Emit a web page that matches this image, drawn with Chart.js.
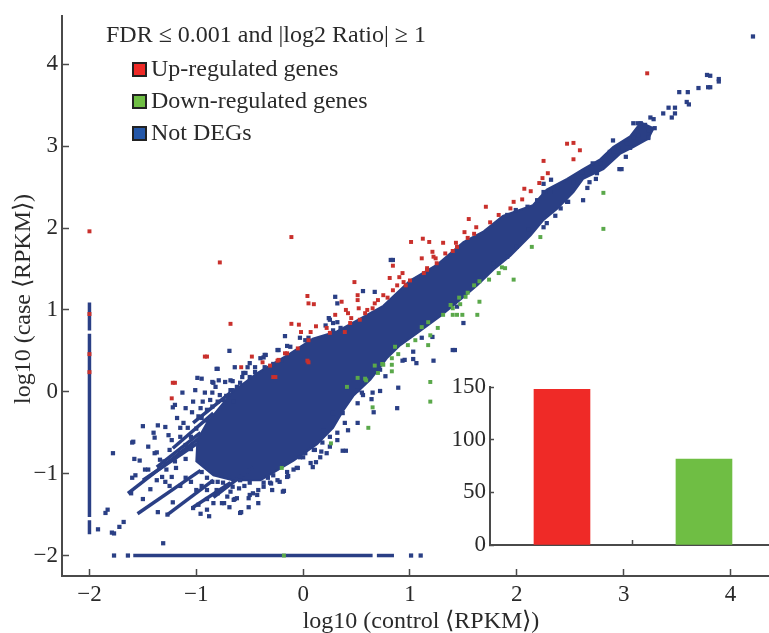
<!DOCTYPE html>
<html>
<head>
<meta charset="utf-8">
<script src="https://cdn.jsdelivr.net/npm/chart.js@4"></script>
<style>
  html, body { margin: 0; padding: 0; background: #fff; }
  #wrap { position: relative; width: 769px; height: 633px; overflow: hidden; }
  canvas { position: absolute; display: block; }
  #main { left: 0; top: 0; }
  #inset { left: 440px; top: 370px; }
</style>
</head>
<body>
<div id="wrap">
  <canvas id="main" width="769" height="633"></canvas>
  <canvas id="inset" width="329" height="200"></canvas>
</div>
<script>
const xTicks = [-2, -1, 0, 1, 2, 3, 4];
const yTicks = [-2, -1, 0, 1, 2, 3, 4];
const xTitle = 'log10 (control \u27E8RPKM\u27E9)';
const yTitle = 'log10 (case \u27E8RPKM\u27E9)';
const legendTitle = 'FDR \u2264 0.001 and |log2 Ratio| \u2265 1';
const legendLabels = ['Up-regulated genes', 'Down-regulated genes', 'Not DEGs'];

const barCategories = [1, 2];
const barValues = [147.8, 81.5];
const barTicks = [0, 50, 100, 150];

// outline of the solid part of the cloud
const cloudOutline = [
  [-0.99,-0.59],[-0.90,-0.38],[-0.66,0.00],[-0.43,0.23],[-0.12,0.47],[0.09,0.65],[0.32,0.74],[0.50,0.87],
  [0.75,1.05],[1.00,1.36],[1.25,1.55],[1.50,1.83],[1.69,1.96],[1.87,2.15],[2.15,2.28],[2.28,2.47],[2.47,2.60],
  [2.62,2.72],[2.78,2.84],[2.90,2.99],[3.06,3.12],[3.16,3.29],[3.28,3.22],[3.23,3.09],[3.09,2.99],[2.97,2.91],
  [2.81,2.72],[2.62,2.60],[2.53,2.44],[2.38,2.24],[2.25,2.10],[2.13,1.91],[1.94,1.66],[1.78,1.49],[1.63,1.30],
  [1.44,1.09],[1.28,0.92],[1.07,0.72],[0.91,0.57],[0.79,0.42],[0.63,0.15],[0.47,-0.05],[0.37,-0.24],[0.28,-0.44],
  [0.13,-0.64],[-0.09,-0.84],[-0.40,-1.08],[-0.66,-1.08],[-0.84,-1.02],[-1.00,-0.85],[-0.99,-0.59]
];

// runs of low count genes: the diagonals and the two zero strips on the axes
const blueRuns = [
  [[-1.55,-1.49],[-0.96,-0.96]],
  [[-1.64,-1.24],[-0.96,-0.55]],
  [[-1.27,-1.50],[-0.84,-1.08]],
  [[-1.50,-1.08],[-0.99,-0.63]],
  [[-1.37,-0.92],[-0.96,-0.50]],
  [[-1.22,-0.69],[-0.84,-0.26]],
  [[-1.03,-0.38],[-0.68,-0.01]],
  [[-1.03,-1.41],[-0.68,-1.11]],
  [[-0.84,-1.29],[-0.47,-0.92]],
  [[-2,1.09],[-2,0.75]],
  [[-2,0.71],[-2,-1.53]],
  [[-2,-1.57],[-2,-1.74]],
  [[-1.59,-2],[0.65,-2]],
  [[0.69,-2],[0.85,-2]]
];

const bluePoints = [
  [-1.77,-2],[-1.64,-2],[1.01,-2],[1.10,-2],
  [-1.78,-0.75],[-1.60,-0.62],[-1.58,-0.82],[-1.45,-0.67],[-1.53,-0.84],[-1.48,-0.95],[-1.57,-1.02],[-1.60,-1.05],
  [-1.61,-1.24],[-1.50,-1.31],[-1.39,-0.75],[-1.34,-0.83],[-1.32,-1.04],[-1.43,-1.19],[-1.37,-1.08],[-1.29,-1.10],
  [-1.23,-1.04],[-1.19,-0.93],[-1.22,-1.35],[-1.36,-1.47],[-1.27,-1.50],[-1.83,-1.44],[-1.85,-1.48],[-1.68,-1.59],
  [-1.72,-1.65],[-1.79,-1.72],[-1.77,-1.73],[-1.92,-1.68],[-1.31,-1.85],
  [-1.03,-1.42],[-0.98,-1.38],[-0.90,-1.31],[-0.84,-1.36],[-0.90,-1.44],[-0.96,-1.49],[-0.88,-1.52],[-0.74,-1.36],
  [-0.69,-1.41],[-0.59,-1.48],[-0.58,-1.47],[-0.51,-1.41],[-0.42,-1.36],[-0.65,-1.32],[-0.51,-1.30],[-0.80,-1.24],
  [-0.29,-1.20],[-0.19,-1.22],[-0.18,-1.21],[-0.42,-1.20],
  [-0.05,-0.93],[-0.14,-1.03],[-0.22,-1.10],[0.07,-0.87],[0.09,-0.92],[0.12,-0.86],[0.10,-0.71],[0.17,-0.73],
  [0.37,-0.72],[0.40,-0.72],[0.42,-0.47],[0.51,-0.38],[-0.64,-1.31],[-0.50,-1.26],[-0.37,-1.11],[-0.28,-1.02],
  [-0.43,-1.26],[-0.68,-1.22],[-0.09,-0.95],[0.00,-0.80],[0.25,-0.67],[0.32,-0.59],[-0.55,-1.15],[-0.33,-1.05],
  [-0.60,-1.18],[-0.72,-1.15],[-0.30,-1.12],[-0.15,-0.98],[0.18,-0.62],[0.22,-0.75],
  [-0.81,-1.20],[-0.75,-1.11],[-0.66,-1.16],[-0.59,-1.08],[-0.50,-1.11],[-0.37,-1.16],[-0.31,-1.11],[-0.47,-1.24],
  [-0.62,-1.30],[-0.71,-1.28],[-0.76,-1.36],[-0.90,-1.05],[-0.80,-1.10],[-0.95,-0.98],
  [-1.45,-0.95],[-1.30,-0.85],[-1.28,-0.95],[-1.20,-0.85],[-1.15,-0.75],[-1.10,-0.82],[-1.05,-0.70],[-1.25,-1.15],
  [-1.15,-1.15],[-1.10,-1.05],[-1.05,-1.10],[-1.00,-1.20],[-0.95,-1.15],[-0.90,-1.20],[-0.85,-1.10],[-1.15,-0.55],
  [-1.05,-0.55],[-1.00,-0.45],[-1.10,-0.65],[-0.95,-0.32],[-0.90,-0.35],[-0.85,-0.18],[-0.80,-0.12],[-0.72,-0.05],[-0.65,-0.12],
  [0.51,-0.14],[0.37,-0.26],[0.39,-0.38],[0.28,-0.26],[0.19,-0.47],[0.32,-0.50],[0.25,-0.55],[0.11,-0.71],[0.16,-0.80],
  [-0.03,-0.80],[0.02,-0.75],[-0.06,-0.93],[-0.15,-1.04],[-0.24,-1.08],[0.55,-0.01],[0.51,0.02],
  [-0.84,0.11],[-0.68,0.14],[-0.66,0.02],[-0.56,0.23],[-0.52,0.30],[-0.37,0.42],[-0.12,0.55],[0.02,0.63],[0.05,0.66],
  [0.25,0.88],[0.32,0.85],[0.28,0.75],
  [-1.59,-0.61],[-1.50,-0.42],[-1.40,-0.50],[-1.39,-0.56],[-1.36,-0.41],[-1.29,-0.43],[-1.22,-0.19],[-1.13,-0.01],
  [-1.01,0.02],[-0.99,0.17],[-0.95,0.16],[-0.92,-0.01],[-0.85,-0.01],[-0.85,0.12],[-0.79,0.14],[-0.81,0.28],
  [-0.80,0.28],[-0.69,0.50],[-0.73,0.12],[-0.66,0.13],[-0.64,0.30],[-0.54,0.23],[-0.50,0.35],[-0.40,0.41],
  [-0.35,0.45],[-0.23,0.51],[-0.15,0.56],[-1.20,-0.16],[-1.03,-0.12],[-0.94,-0.12],[-0.87,-0.10],[-1.04,-0.25],
  [-1.18,-0.32],[-1.23,-0.59],[-1.26,-0.53],[-1.15,-0.44],[-1.08,-0.44],[-1.25,-0.71],[-1.37,-0.74],[-1.12,-0.38],
  [-0.96,-0.20],[-0.82,0.06],[-0.78,-0.04],[-0.68,0.02],[-0.59,0.11],[-1.10,-0.20],[-0.98,-0.30],[-0.90,-0.22],
  [-0.75,-0.10],[-0.62,0.06],[-0.57,0.18],[-0.45,0.24],[-0.36,0.30],[-0.28,0.34],[-0.20,0.38],
  [4.21,4.34],[3.78,3.87],[3.81,3.86],[3.89,3.82],[3.89,3.79],[3.79,3.72],[3.81,3.72],[3.70,3.71],[3.60,3.66],[3.52,3.66],
  [3.59,3.54],[3.61,3.51],[3.42,3.47],[3.48,3.47],[3.37,3.40],[3.48,3.40],[3.45,3.35],[3.25,3.35],[3.28,3.33],
  [3.13,3.28],[3.29,3.22],[3.23,3.10],[2.90,3.07],[3.02,2.87],[2.96,2.72],[2.98,2.72],[2.75,2.67],[2.74,2.60],
  [2.68,2.56],[2.66,2.49],[2.62,2.34],[2.47,2.32],[2.32,2.59],[2.25,2.54],[2.36,2.15],
  [2.61,2.68],[2.71,2.79],[2.78,2.79],[2.87,2.93],[2.92,2.89],[2.95,2.98],[3.03,3.03],[3.06,2.98],[3.09,3.11],
  [3.14,3.13],[3.20,3.26],[3.23,3.19],[3.09,3.28],[3.16,3.28],[3.23,3.11],
  [2.25,2.44],[2.31,2.44],[2.38,2.50],[2.53,2.56],[2.19,2.34],[2.10,2.26],[1.99,2.22],[1.91,2.16],
  [2.48,2.32],[2.41,2.24],[2.28,2.06],[2.25,2.01],[2.11,1.98],[2.00,1.77],[1.91,1.65],[1.78,1.57],[1.66,1.40],
  [1.40,0.51],[1.42,0.51],[1.22,0.38],[1.06,0.35],[1.03,0.40],[0.93,0.38],[0.95,0.39],[0.89,0.05],[0.88,-0.20],[0.66,-0.25],
  [0.72,0.01],[0.65,-0.01],[0.64,-0.09],[0.56,-0.04],[1.50,0.84],[1.44,1.04],[1.21,0.67],[1.11,0.66],[1.03,0.49],
  [0.77,0.19],[0.72,0.27],[0.56,0.10],
  [-0.17,0.68],[-0.03,0.66],[-0.24,0.51],[-0.36,0.45],[-0.45,0.30],[-0.50,0.18],[0.30,1.16],[0.32,1.08],[0.56,1.23],
  [0.67,1.22],[0.24,0.90],[0.21,0.81],[0.35,0.78],[0.28,0.84],[0.82,1.61],[0.84,1.61]
];

const redPoints = [
  [-2,1.96],[-0.11,1.89],[-0.78,1.58],[-0.68,0.83],[-0.92,0.43],[-0.90,0.43],[-1.22,0.11],[-1.20,0.11],[-1.23,-0.08],[3.22,3.89],
  [-2,0.95],[-2,0.46],[-2,0.24],
  [2.47,3.03],[2.53,3.04],[2.59,2.95],[2.53,2.84],[2.25,2.82],[2.29,2.67],[2.24,2.61],[2.21,2.55],[2.07,2.48],
  [2.13,2.45],[2.05,2.35],[1.97,2.32],[1.94,2.24],[1.71,2.26],[1.83,2.16],[1.55,2.11],[1.75,2.07],[1.62,2.01],
  [1.51,1.95],[1.60,1.93],[1.54,1.88],[1.01,1.83],[1.12,1.87],[1.18,1.83],[1.31,1.82],[1.43,1.82],[1.44,1.77],
  [1.21,1.71],[1.24,1.63],[1.11,1.63],[1.33,1.69],[1.40,1.72],[1.25,1.57],[1.16,1.51],[1.13,1.45],[0.93,1.45],
  [1.00,1.36],[0.96,1.30],[0.84,1.54],[0.81,1.39],[0.48,1.34],[1.22,1.65],[1.16,1.49],[0.94,1.34],[0.88,1.30],
  [0.84,1.24],[0.79,1.15],[0.67,1.08],[0.65,1.02],[0.58,0.96],[0.53,0.88],[0.51,1.12],[0.52,1.02],[0.51,1.18],
  [0.42,0.96],[0.44,0.84],[0.39,0.73],[0.36,1.10],[0.30,0.94],[0.04,1.17],[0.05,1.08],[0.10,1.07],[-0.11,0.83],
  [-0.04,0.82],[0.12,0.80],[0.22,0.78],[0.25,0.72],[0.07,0.73],[-0.02,0.73],[0.05,0.63],[-0.05,0.53],[-0.15,0.47],
  [-0.23,0.39],[-0.38,0.36],[-0.31,0.32],[0.04,0.38],[0.05,0.36],[-0.28,0.18],[-0.26,0.18],[-0.48,0.43],[-0.17,0.47],
  [-0.24,0.38],[-0.58,0.30],[0.60,1.00],[0.45,0.90],[0.40,1.00],[0.70,1.12],[0.75,1.18],[0.90,1.40]
];

const greenPoints = [
  [2.81,2.43],[2.81,1.99],[2.22,1.89],[2.14,1.77],[1.86,1.52],[1.89,1.51],[1.83,1.45],[1.74,1.37],[1.97,1.37],
  [1.65,1.10],[1.63,0.94],[1.65,1.35],[1.60,1.30],[1.54,1.21],[1.52,1.16],[1.46,1.15],[1.38,1.06],[1.40,1.02],
  [1.40,0.94],[1.44,0.94],[1.49,0.94],[1.31,0.94],[1.47,1.07],[1.26,0.78],[1.17,0.85],[1.11,0.79],[1.19,0.69],
  [1.05,0.63],[0.98,0.57],[1.17,0.57],[0.86,0.55],[0.89,0.46],[0.83,0.41],[0.83,0.33],[0.83,0.25],[0.74,0.34],
  [0.67,0.32],[0.70,0.23],[0.58,0.16],[1.19,0.12],[1.19,-0.12],[0.65,-0.19],[0.61,-0.44],[0.26,-0.63],[-0.20,-0.93],
  [0.41,0.06],[0.51,0.17],[0.59,0.14],[0.75,0.33],[-0.18,-2]
];

const blue = '#2a3f85';
const red = '#c9302c';
const green = '#5aa84a';
const inkColor = '#2a2a2a';
const axisColor = '#4a4a4a';
const serif = '"Liberation Serif", "Times New Roman", serif';
const swatchColors = ['#ef2a27', '#6fbe44', '#2457a8'];

function toXY(list) {
  return list.map(function(p) { return { x: p[0], y: p[1] }; });
}

function pointSet(list, color, radius) {
  return {
    data: toXY(list), showLine: false, pointStyle: 'rect', pointRadius: radius,
    pointBackgroundColor: color, pointBorderWidth: 0
  };
}

const runSets = blueRuns.map(function(run) {
  return {
    data: toXY(run), showLine: true, borderColor: blue, borderWidth: 3.5,
    pointRadius: 0, fill: false
  };
});

const datasets = [
  pointSet(redPoints, red, 2.8),
  pointSet(greenPoints, green, 2.8),
  pointSet(bluePoints, blue, 3)
].concat(runSets, [{
  data: toXY(cloudOutline), showLine: true, borderColor: blue, borderWidth: 2,
  backgroundColor: blue, fill: 'shape', pointRadius: 0, tension: 0
}]);

// title, legend and the axis names sit at fixed places in the figure
const figureText = {
  id: 'figureText',
  afterDraw(chart) {
    const ctx = chart.ctx;
    ctx.save();
    ctx.fillStyle = inkColor;
    ctx.textBaseline = 'middle';
    ctx.font = '24px ' + serif;
    ctx.textAlign = 'left';
    ctx.fillText(legendTitle, 106, 36);
    legendLabels.forEach(function(label, i) {
      const y = 70 + i * 32;
      ctx.fillStyle = swatchColors[i];
      ctx.strokeStyle = '#222';
      ctx.lineWidth = 2;
      ctx.fillRect(133, y - 7, 13, 13);
      ctx.strokeRect(133, y - 7, 13, 13);
      ctx.fillStyle = inkColor;
      ctx.fillText(label, 151, y);
    });
    ctx.textAlign = 'center';
    ctx.fillText(xTitle, 421, 622);
    ctx.translate(24, 299);
    ctx.rotate(-Math.PI / 2);
    ctx.fillText(yTitle, 0, 0);
    ctx.restore();
  }
};

function tickText(v) {
  return v < 0 ? '\u2212' + Math.abs(v) : String(v);
}

new Chart(document.getElementById('main').getContext('2d'), {
  type: 'scatter',
  data: { datasets: datasets },
  plugins: [figureText],
  options: {
    responsive: false,
    animation: false,
    layout: { autoPadding: false, padding: { top: 16, right: 0, left: 0, bottom: 0 } },
    plugins: { legend: { display: false }, tooltip: { enabled: false } },
    scales: {
      x: {
        type: 'linear', min: -2.257, max: 4.36,
        afterBuildTicks(s) { s.ticks = xTicks.map(function(v) { return { value: v }; }); },
        afterFit(s) { s.height = 57; s.paddingLeft = 0; s.paddingRight = 0; },
        grid: { drawOnChartArea: false, tickLength: -7, tickColor: axisColor, tickWidth: 1.5 },
        border: { color: axisColor, width: 2 },
        ticks: {
          padding: 12, color: inkColor, maxRotation: 0, autoSkip: false,
          font: { family: serif, size: 23 }, callback: tickText
        }
      },
      y: {
        type: 'linear', min: -2.25, max: 4.59,
        afterBuildTicks(s) { s.ticks = yTicks.map(function(v) { return { value: v }; }); },
        afterFit(s) { s.width = 62; s.paddingTop = 0; s.paddingBottom = 0; },
        grid: { drawOnChartArea: false, tickLength: -7, tickColor: axisColor, tickWidth: 1.5 },
        border: { color: axisColor, width: 2 },
        ticks: {
          padding: 11, color: inkColor, autoSkip: false,
          font: { family: serif, size: 23 }, callback: tickText
        }
      }
    }
  }
});

new Chart(document.getElementById('inset').getContext('2d'), {
  type: 'bar',
  data: {
    datasets: [{
      data: barCategories.map(function(c, i) { return { x: c, y: barValues[i] }; }),
      backgroundColor: ['#ef2a27', '#6fbe44'],
      barThickness: 56
    }]
  },
  options: {
    responsive: false,
    animation: false,
    layout: { autoPadding: false, padding: { top: 17, right: 0, left: 0, bottom: 0 } },
    plugins: { legend: { display: false }, tooltip: { enabled: false } },
    scales: {
      x: {
        type: 'linear', min: 0.493, max: 2.458, offset: false,
        afterBuildTicks(s) { s.ticks = [{ value: 1.5 }]; },
        afterFit(s) { s.height = 25; s.paddingLeft = 0; s.paddingRight = 0; },
        grid: { offset: false, drawOnChartArea: false, tickLength: -5, tickColor: axisColor, tickWidth: 1.5 },
        border: { color: axisColor, width: 2 },
        ticks: { display: false }
      },
      y: {
        type: 'linear', min: 0, max: 150,
        afterBuildTicks(s) { s.ticks = barTicks.map(function(v) { return { value: v }; }); },
        afterFit(s) { s.width = 50; s.paddingTop = 0; s.paddingBottom = 0; },
        grid: { drawOnChartArea: false, tickLength: -4, tickColor: axisColor, tickWidth: 1.5 },
        border: { color: axisColor, width: 2 },
        ticks: { padding: 8, color: inkColor, font: { family: serif, size: 23 } }
      }
    }
  }
});
</script>
</body>
</html>
